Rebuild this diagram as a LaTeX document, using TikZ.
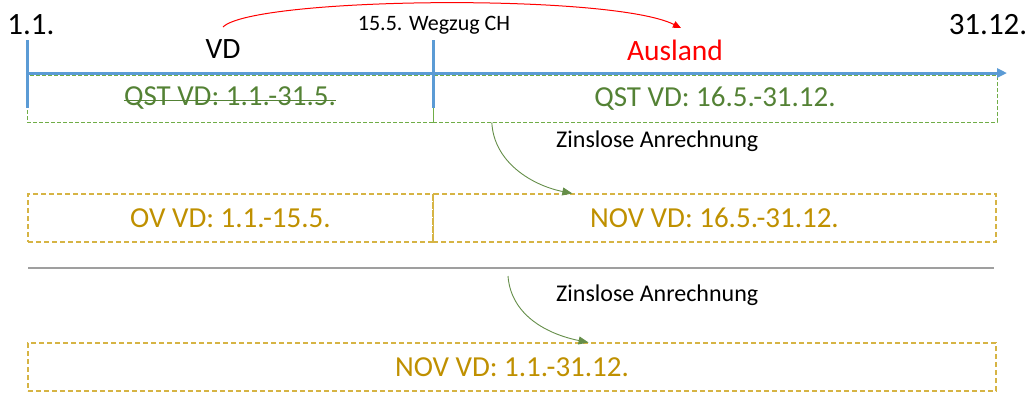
\documentclass[tikz,border=0pt]{standalone}
\usepackage{fontspec}
\setmainfont{Carlito}
\usetikzlibrary{calc, arrows.meta}

\definecolor{tlblue}{HTML}{5B9BD5}
\definecolor{qstline}{HTML}{70AD47}
\definecolor{qsttext}{HTML}{548235}
\definecolor{ovline}{HTML}{D6B444}
\definecolor{ovtext}{HTML}{BF9000}

\begin{document}
\begin{tikzpicture}[x=1pt, y=-1pt,
	big/.style={font=\fontsize{29.5}{33}\selectfont, anchor=base, inner sep=0pt},
	small/.style={font=\fontsize{22}{26}\selectfont, anchor=base, inner sep=0pt},
	qstbox/.style={draw=qstline, dash pattern=on 4pt off 2pt, line width=1pt, text=qsttext, minimum height=47pt, inner sep=0pt, font=\fontsize{29}{33}\selectfont},
	ovbox/.style={draw=ovline, dash pattern=on 5pt off 3pt, line width=1.1pt, text=ovtext, minimum height=48pt, inner sep=0pt, font=\fontsize{29}{33}\selectfont},
	zinsarrow/.style={-{Triangle[length=10pt, width=8pt]}, draw=qsttext!90!white, line width=0.9pt}]
	\useasboundingbox (0, 0) rectangle (1034, 392);

	\node (jan) at (31, 34) [big, font=\fontsize{31}{35}\selectfont] {1.1.};
	\node (dec) at (988, 34) [big, font=\fontsize{31}{35}\selectfont] {31.12.};
	\node (vd) at (223, 58) [big] {VD};
	\node (ausland) at (675, 60) [big, text=red] {Ausland};
	\node (wegzug) at (434, 30) [small] {15.5. Wegzug CH};

	\coordinate (redA) at (223, 27);
	\coordinate (redB) at (681, 28);
	\draw [-{Triangle[length=8pt, width=7pt]}, red, line width=1pt] (redA) .. controls +(30, -30) and +(-70, -35) .. (redB);

	\node (qstL) at (230, 98.5) [qstbox, minimum width=406pt] {};
	\node (qstLtxt) at (qstL.center) [inner sep=0pt, text=qsttext, font=\fontsize{29}{33}\selectfont] {QST VD: 1.1.-31.5.};
	\draw [qsttext, line width=1.5pt] ($(qstLtxt.west) + (0, 2)$) -- ($(qstLtxt.east) + (0, 2)$);
	\node (qstR) at (715, 98.5) [qstbox, minimum width=564pt] {QST VD: 16.5.-31.12.};
	\draw [qstline, line width=1pt] (qstL.north east) -- (qstL.south east);

	\coordinate (tlA) at (27, 73);
	\coordinate (tlB) at (1007, 73);
	\draw [-{Triangle[length=10pt, width=9pt]}, tlblue, line width=3pt] (tlA) -- (tlB);
	\draw [tlblue, line width=3pt] (27, 40) -- (27, 108);
	\draw [tlblue, line width=3pt] (433, 40) -- (433, 108);

	\node (ovL) at (230.5, 218) [ovbox, minimum width=405pt] {OV VD: 1.1.-15.5.};
	\node (novR) at (714.5, 218) [ovbox, minimum width=563pt] {NOV VD: 16.5.-31.12.};
	\draw [ovline, line width=1.1pt] (ovL.north east) -- (ovL.south east);

	\coordinate (zinsA) at ($(qstR.south west)!0.105!(qstR.south east)$);
	\coordinate (zinsB) at ($(novR.north west)!0.248!(novR.north east)$);
	\draw [zinsarrow] (zinsA) .. controls +(2, 40) and +(-40, -8) .. (zinsB);
	\node (zins1) at (556, 147) [small, anchor=base west, font=\fontsize{24}{28}\selectfont] {Zinslose Anrechnung};

	\coordinate (sepL) at (28, 268);
	\coordinate (sepR) at (994, 268);
	\draw [gray!75, line width=1.5pt] (sepL) -- (sepR);

	\node (novAll) at (512, 367) [ovbox, minimum width=968pt] {NOV VD: 1.1.-31.12.};

	\coordinate (zinsC) at (508, 276);
	\coordinate (zinsD) at ($(novAll.north west)!0.579!(novAll.north east)$);
	\draw [zinsarrow] (zinsC) .. controls +(3, 40) and +(-40, -8) .. (zinsD);
	\node (zins2) at (556, 301) [small, anchor=base west, font=\fontsize{24}{28}\selectfont] {Zinslose Anrechnung};
\end{tikzpicture}
\end{document}
